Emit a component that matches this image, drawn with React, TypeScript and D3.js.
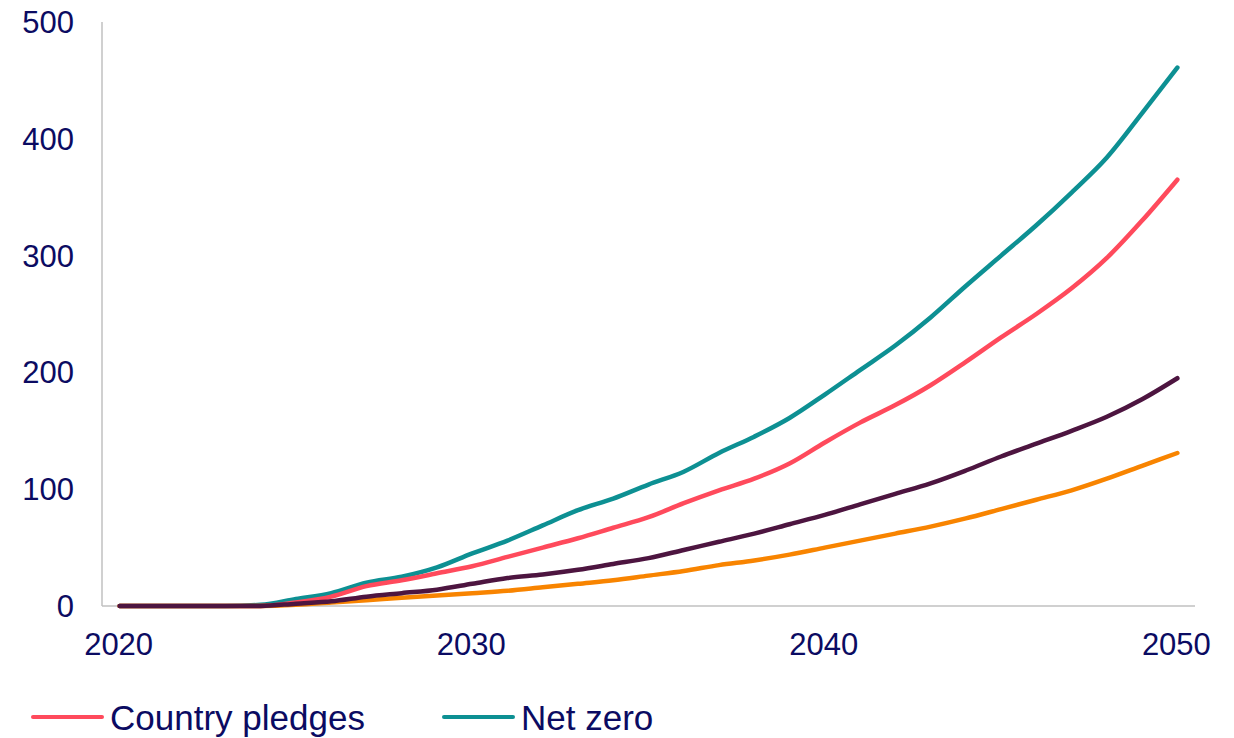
import React, { useRef, useEffect } from 'react'
import * as d3 from 'd3'

const years = d3.range(2020, 2051)
const netZero = [0, 0, 0, 0, 1, 6, 11, 20, 25, 33, 45, 56, 69, 82, 92, 104, 115, 131, 145, 161, 181, 202, 223, 247, 274, 300, 326, 354, 384, 422, 461]
const pledges = [0, 0, 0, 0, 0, 3, 8, 17, 22, 28, 34, 42, 50, 58, 67, 76, 88, 99, 109, 122, 140, 157, 172, 189, 209, 230, 250, 272, 298, 330, 365]
const seriesC = [0, 0, 0, 0, 0, 2, 4, 8, 11, 14, 19, 24, 27, 31, 36, 41, 48, 55, 62, 70, 78, 87, 96, 105, 116, 128, 139, 150, 162, 177, 195]
const seriesD = [0, 0, 0, 0, 0, 1, 3, 5, 7, 9, 11, 13, 16, 19, 22, 26, 30, 35, 39, 44, 50, 56, 62, 68, 75, 83, 91, 99, 109, 120, 131]
const yTicks = [0, 100, 200, 300, 400, 500]
const xTicks = [2020, 2030, 2040, 2050]

const lines = [
  { name: 'Net zero', values: netZero, color: '#0d9093' },
  { name: 'Country pledges', values: pledges, color: '#ff4a5c' },
  { name: '', values: seriesD, color: '#f88400' },
  { name: '', values: seriesC, color: '#4d1540' },
]

const legend = [
  { name: 'Country pledges', color: '#ff4a5c' },
  { name: 'Net zero', color: '#0d9093' },
]

const textColor = '#0b0b62'
const font = '"Liberation Sans", Arial, sans-serif'

function App() {
  const ref = useRef<SVGSVGElement>(null)

  useEffect(() => {
    const svg = d3.select(ref.current)
    svg.selectAll('*').remove()

    const x = d3.scaleLinear().domain([2019.5, 2050.5]).range([102, 1195])
    const y = d3.scaleLinear().domain([0, 500]).range([606, 22])

    // axes
    svg.append('line')
      .attr('x1', x(2019.5)).attr('x2', x(2019.5))
      .attr('y1', y(500)).attr('y2', y(0))
      .attr('stroke', '#c0c0c0').attr('stroke-width', 1.5)
    svg.append('line')
      .attr('x1', x(2019.5)).attr('x2', x(2050.5))
      .attr('y1', y(0)).attr('y2', y(0))
      .attr('stroke', '#c0c0c0').attr('stroke-width', 1.5)

    svg.selectAll('.ylab')
      .data(yTicks)
      .join('text')
      .attr('class', 'ylab')
      .attr('x', 74)
      .attr('y', d => y(d) + 11)
      .attr('text-anchor', 'end')
      .attr('font-size', 31)
      .attr('font-family', font)
      .attr('fill', textColor)
      .text(d => d)

    svg.selectAll('.xlab')
      .data(xTicks)
      .join('text')
      .attr('class', 'xlab')
      .attr('x', d => x(d) - 1)
      .attr('y', 655)
      .attr('text-anchor', 'middle')
      .attr('font-size', 31)
      .attr('font-family', font)
      .attr('fill', textColor)
      .text(d => d)

    const lineGen = d3.line<number>()
      .x((d, i) => x(years[i]))
      .y(d => y(d))
      .curve(d3.curveMonotoneX)

    svg.selectAll('.series')
      .data(lines)
      .join('path')
      .attr('class', 'series')
      .attr('d', d => lineGen(d.values))
      .attr('fill', 'none')
      .attr('stroke', d => d.color)
      .attr('stroke-width', 4.5)
      .attr('stroke-linecap', 'round')
      .attr('stroke-linejoin', 'round')

    // legend
    const lg = svg.selectAll('.legend')
      .data(legend)
      .join('g')
      .attr('class', 'legend')
      .attr('transform', (d, i) => `translate(${[33, 444][i]}, 717)`)
    lg.append('line')
      .attr('x1', 0).attr('x2', 69)
      .attr('stroke', d => d.color)
      .attr('stroke-width', 4)
      .attr('stroke-linecap', 'round')
    lg.append('text')
      .attr('x', 77)
      .attr('y', 13)
      .attr('font-size', 35)
      .attr('font-family', font)
      .attr('fill', textColor)
      .text(d => d.name)
  }, [])

  return (
    <svg ref={ref} width={1234} height={738} style={{ position: 'absolute', left: 0, top: 0 }} />
  )
}

export default App
